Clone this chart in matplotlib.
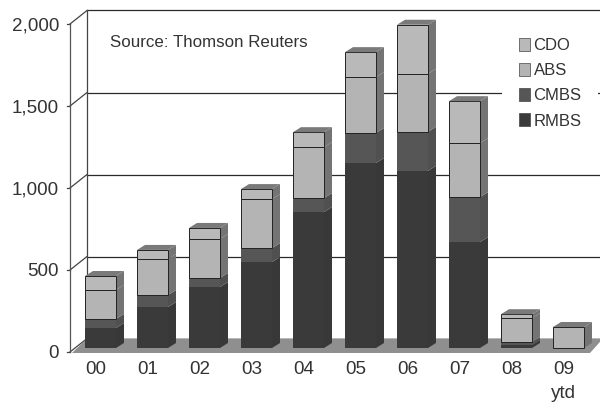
import matplotlib
matplotlib.use("Agg")
import matplotlib.pyplot as plt
import numpy as np
from matplotlib.patches import Polygon, Patch, Rectangle
from matplotlib.transforms import ScaledTranslation

plt.rcParams['font.family'] = ['Liberation Sans', 'DejaVu Sans']

years = ["00", "01", "02", "03", "04", "05", "06", "07", "08", "09\nytd"]
rmbs = [122, 250, 372, 524, 829, 1128, 1080, 646, 18, 0]
cmbs = [55, 73, 55, 85, 85, 183, 238, 274, 18, 0]
abs_ = [177, 220, 238, 299, 311, 341, 354, 329, 146, 128]
cdo = [85, 55, 67, 61, 91, 152, 299, 256, 24, 0]
series = [("RMBS", rmbs), ("CMBS", cmbs), ("ABS", abs_), ("CDO", cdo)]
yticks = [0, 500, 1000, 1500, 2000]

face = {"RMBS": "#3a3a3a", "CMBS": "#565656", "ABS": "#b4b4b4", "CDO": "#b9b9b9"}
side = {"RMBS": "#383838", "CMBS": "#505050", "ABS": "#747474", "CDO": "#747474"}
ink = "#333333"

W, H = 600, 403
fig = plt.figure(figsize=(6, 4.03), dpi=100, facecolor="white")
ax = fig.add_axes([70 / W, 1 - 352 / H, 530 / W, 328 / H])
ax.set_facecolor("none")
px_x = 1 / 52.0        # data units per pixel, x
px_y = 2000 / 328.0    # data units per pixel, y
ax.set_xlim(-30.5 * px_x, 499.5 * px_x)
ax.set_ylim(0, 2000)

x = np.arange(len(years))
bar_w = 31 * px_x
base = 4 * px_y
ddx, ddy = 8 * px_x, 5 * px_y
wx, wy = 17 * px_x, 13.5 * px_y
x0, x1 = ax.get_xlim()

# walls, gridlines and floor
for t in yticks:
    ax.plot([x0 + wx, x1 + 5 * px_x], [t + wy, t + wy], color="#2a2a2a", lw=0.9,
            clip_on=False, zorder=1)
    ax.plot([x0, x0 + wx], [t, t + wy], color="#444444", lw=0.9, clip_on=False, zorder=1)
    ax.plot([x0 - 3 * px_x, x0], [t, t], color="#444444", lw=0.9, clip_on=False, zorder=1)
ax.plot([x0 + wx, x0 + wx], [wy, 2000 + wy], color="#444444", lw=0.9, clip_on=False, zorder=1)
ax.add_patch(Polygon([(x0 + 2 * px_x, -1 * px_y), (x0 + wx, wy), (x1 + 3 * px_x, wy),
                      (x1 - 10 * px_x, -1 * px_y)],
                     closed=True, facecolor="#8f8f8f", edgecolor="none", clip_on=False, zorder=2))

# stacked 3D-looking bars
bottoms = np.full(len(years), base, dtype=float)
for name, vals in series:
    vals = np.array(vals, dtype=float)
    light = name in ("ABS", "CDO")
    ec = "#222222" if light else "none"
    for xi, b, v in zip(x, bottoms, vals):
        if v <= 0:
            continue
        r = xi + bar_w / 2
        ax.add_patch(Polygon([(r, b), (r + ddx, b + ddy), (r + ddx, b + v + ddy), (r, b + v)],
                             closed=True, facecolor=side[name], edgecolor="none",
                             clip_on=False, zorder=3))
    ax.bar(x[vals > 0], vals[vals > 0], width=bar_w, bottom=bottoms[vals > 0],
           color=face[name], edgecolor=ec, linewidth=0.7, clip_on=False, zorder=4)
    bottoms = bottoms + vals

for xi, t in zip(x, bottoms):
    l, r = xi - bar_w / 2, xi + bar_w / 2
    ax.add_patch(Polygon([(l, t), (r, t), (r + ddx, t + ddy), (l + ddx, t + ddy)], closed=True,
                         facecolor="#7a7a7a", edgecolor="none", clip_on=False, zorder=5))

for s in ("top", "right", "bottom"):
    ax.spines[s].set_visible(False)
ax.spines["left"].set_color("#555555")
ax.spines["left"].set_linewidth(0.9)
ax.spines["left"].set_zorder(1)

ax.set_yticks(yticks)
ax.set_yticklabels([f"{t:,}" for t in yticks], fontsize=13.6, color=ink)
ax.tick_params(axis="y", length=0, pad=8)
ax.set_xticks(x)
ax.set_xticklabels(years, fontsize=13.6, color=ink, linespacing=1.5)
ax.tick_params(axis="x", length=0, pad=6.7)
shift = ScaledTranslation(-5 / 100, 0, fig.dpi_scale_trans)
for lab in ax.get_xticklabels():
    lab.set_transform(lab.get_transform() + shift)

fig.text(110 / W, 1 - 42.5 / H, "Source: Thomson Reuters", fontsize=12.2, color=ink,
         va="center", ha="left", zorder=8)

# the white block behind the legend interrupts the 1,500 gridline
fig.add_artist(Rectangle((502 / W, 1 - 135 / H), 96 / W, 104 / H, transform=fig.transFigure,
                         facecolor="white", edgecolor="none", zorder=6))
handles = [Patch(facecolor=face[n], edgecolor="#444444", linewidth=0.5, label=n)
           for n in ("CDO", "ABS", "CMBS", "RMBS")]
leg = fig.legend(handles=handles, loc="upper left", bbox_to_anchor=(516 / W, 1 - 34.5 / H),
                 bbox_transform=fig.transFigure, frameon=False, fontsize=12, labelcolor=ink,
                 handlelength=0.65, handleheight=0.8, handletextpad=0.2, labelspacing=0.6,
                 borderpad=0.2, borderaxespad=0)
leg.set_zorder(7)

fig.savefig("out.png", dpi=100)
